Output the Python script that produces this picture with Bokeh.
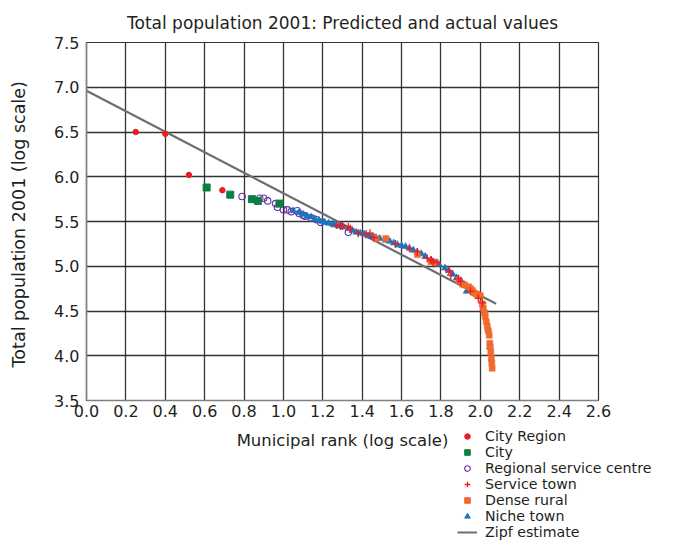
from bokeh.plotting import figure
from bokeh.models import Legend, LegendItem, Range1d, FixedTicker, Title
from bokeh.embed import file_html
from bokeh.resources import INLINE

# ---- data ----
city_region_x = [0.25, 0.40, 0.52, 0.69]
city_region_y = [6.50, 6.48, 6.02, 5.85]

city_x = [0.61, 0.73, 0.84, 0.87, 0.98]
city_y = [5.88, 5.80, 5.75, 5.73, 5.70]

regional_x = [0.79, 0.88, 0.90, 0.92, 0.96, 0.97, 1.00, 1.02, 1.04, 1.07, 1.08,
              1.10, 1.11, 1.14, 1.17, 1.19, 1.33]
regional_y = [5.78, 5.76, 5.76, 5.73, 5.70, 5.66, 5.63, 5.63, 5.61, 5.62, 5.59,
              5.57, 5.56, 5.54, 5.52, 5.49, 5.38]

niche_x = [1.05, 1.08, 1.10, 1.12, 1.14, 1.16, 1.18, 1.20, 1.21, 1.23, 1.25,
           1.26, 1.28, 1.30, 1.33, 1.35, 1.37, 1.39, 1.41, 1.43, 1.45, 1.47,
           1.49, 1.52, 1.54, 1.56, 1.58, 1.60, 1.62, 1.64, 1.66, 1.68, 1.70,
           1.72, 1.75, 1.77, 1.79, 1.82, 1.84, 1.86, 1.88, 1.90, 1.93, 1.95,
           1.98, 2.02, 2.04, 2.048]
niche_y = [5.62, 5.60, 5.58, 5.56, 5.55, 5.53, 5.51, 5.50, 5.49, 5.48, 5.47,
           5.46, 5.45, 5.44, 5.42, 5.40, 5.38, 5.37, 5.36, 5.34, 5.33, 5.32,
           5.31, 5.29, 5.28, 5.26, 5.24, 5.23, 5.22, 5.20, 5.18, 5.16, 5.14,
           5.11, 5.07, 5.04, 5.02, 4.98, 4.95, 4.91, 4.87, 4.84, 4.72, 4.75,
           4.69, 4.50, 4.30, 4.10]

service_x = [1.27, 1.29, 1.30, 1.33, 1.34, 1.38, 1.42, 1.44, 1.46, 1.57, 1.64,
             1.68, 1.73, 1.75, 1.76, 1.78, 1.84, 1.85, 1.89, 1.90, 1.95, 1.99,
             2.01]
service_y = [5.46, 5.45, 5.45, 5.44, 5.42, 5.37, 5.36, 5.37, 5.32, 5.25, 5.20,
             5.16, 5.09, 5.07, 5.05, 5.04, 4.95, 4.90, 4.86, 4.83, 4.72, 4.64,
             4.59]

rural_x = [1.47, 1.52, 1.68, 1.75, 1.77, 1.89, 1.91, 1.92, 1.94, 1.95, 1.96,
           1.97, 1.98, 1.99, 2.00, 2.01, 2.015, 2.02, 2.025, 2.03, 2.035, 2.04,
           2.045, 2.048, 2.05, 2.053, 2.056, 2.058, 2.06]
rural_y = [5.31, 5.31, 5.13, 5.05, 5.04, 4.84, 4.80, 4.79, 4.77, 4.75, 4.73,
           4.70, 4.69, 4.68, 4.67, 4.58, 4.53, 4.48, 4.44, 4.38, 4.33, 4.28,
           4.23, 4.14, 4.10, 4.04, 3.97, 3.92, 3.86]

zipf_x = [0.0, 2.08]
zipf_y = [6.96, 4.58]

legend_labels = ["City Region", "City", "Regional service centre", "Service town",
                 "Dense rural", "Niche town", "Zipf estimate"]

x_ticks = [0.0, 0.2, 0.4, 0.6, 0.8, 1.0, 1.2, 1.4, 1.6, 1.8, 2.0, 2.2, 2.4, 2.6]
y_ticks = [3.5, 4.0, 4.5, 5.0, 5.5, 6.0, 6.5, 7.0, 7.5]

FONT = "DejaVu Sans"
TXT = "#231f20"

RED = "#ed1c24"
GREEN = "#0a7f45"
PURPLE = "#6b2fa0"
ORANGE = "#f26a2c"
BLUE = "#1c75bc"
GRAY = "#6d6e71"

p = figure(width=682, height=546, output_backend="svg", toolbar_location=None,
           x_range=Range1d(0, 2.6), y_range=Range1d(3.5, 7.5),
           min_border_left=86, min_border_right=84, min_border_top=42,
           min_border_bottom=146)

p.title = Title(text="Total population 2001: Predicted and actual values",
                align="center", text_font=FONT, text_font_size="17px",
                text_font_style="normal", text_color=TXT, standoff=20)

p.xaxis.ticker = FixedTicker(ticks=x_ticks)
p.yaxis.ticker = FixedTicker(ticks=y_ticks)
p.xaxis.major_label_overrides = {t: f"{t:.1f}" for t in x_ticks}
p.yaxis.major_label_overrides = {t: f"{t:.1f}" for t in y_ticks}
for ax in (p.xaxis, p.yaxis):
    ax.major_tick_out = 0
    ax.major_tick_in = 0
    ax.minor_tick_out = 0
    ax.minor_tick_in = 0
    ax.axis_line_color = "#808080"
    ax.axis_line_width = 1.5
    ax.major_label_text_font = FONT
    ax.major_label_text_font_size = "16px"
    ax.major_label_text_color = TXT
    ax.axis_label_text_font = FONT
    ax.axis_label_text_font_style = "normal"
    ax.axis_label_text_color = TXT
p.xaxis.axis_label_text_font_size = "16.5px"
p.yaxis.axis_label_text_font_size = "17.5px"
p.xaxis.major_label_standoff = 4
p.yaxis.major_label_standoff = 7
p.xaxis.axis_label = "Municipal rank (log scale)"
p.yaxis.axis_label = "Total population 2001  (log scale)"
p.xaxis.axis_label_standoff = 11
p.yaxis.axis_label_standoff = 22

p.grid.grid_line_color = "#1e1e1e"
p.grid.grid_line_width = 1.3
p.grid.grid_line_alpha = 0.9
p.outline_line_color = "#333333"
p.outline_line_width = 1.2
p.background_fill_color = "white"
p.border_fill_color = "white"

p.line(zipf_x, zipf_y, line_color=GRAY, line_width=2.2)
p.scatter(regional_x, regional_y, marker="circle", size=6.5,
          fill_color=None, line_color=PURPLE, line_width=1.1)
p.scatter(niche_x, niche_y, marker="triangle", size=7,
          fill_color=BLUE, line_color=BLUE, line_width=0.5)
p.scatter(rural_x, rural_y, marker="square", size=6,
          fill_color=ORANGE, line_color=ORANGE, line_width=0.5)
p.scatter(service_x, service_y, marker="cross", size=8,
          line_color=RED, line_width=1.3)
p.scatter(city_x, city_y, marker="square", size=7,
          fill_color=GREEN, line_color=GREEN)
p.scatter(city_region_x, city_region_y, marker="circle", size=5.5,
          fill_color=RED, line_color=RED)

# ---- legend: separate transparent panel placed over the lower right ----
# its glyph renderers hold one sample of each series, kept outside the view
lg = figure(width=225, height=118, output_backend="svg", toolbar_location=None,
            x_range=Range1d(-3, -2), y_range=Range1d(-3, -2),
            x_axis_type=None, y_axis_type=None,
            min_border=0, min_border_left=0, min_border_right=0,
            min_border_top=0, min_border_bottom=0,
            outline_line_color=None,
            styles={"position": "absolute", "left": "457px", "top": "428px"})
lg.background_fill_alpha = 0
lg.border_fill_alpha = 0
lg.grid.visible = False

l_cr = lg.scatter(city_region_x[:1], city_region_y[:1], marker="circle",
                  fill_color=RED, line_color=RED)
l_city = lg.scatter(city_x[:1], city_y[:1], marker="square",
                    fill_color=GREEN, line_color=GREEN)
l_reg = lg.scatter(regional_x[:1], regional_y[:1], marker="circle", fill_color=None,
                   line_color=PURPLE, line_width=1.1)
l_serv = lg.scatter(service_x[:1], service_y[:1], marker="cross",
                    line_color=RED, line_width=1.3)
l_rural = lg.scatter(rural_x[:1], rural_y[:1], marker="square",
                     fill_color=ORANGE, line_color=ORANGE)
l_niche = lg.scatter(niche_x[:1], niche_y[:1], marker="triangle",
                     fill_color=BLUE, line_color=BLUE)
l_zipf = lg.line(zipf_x, zipf_y, line_color=GRAY, line_width=2)

rends = [l_cr, l_city, l_reg, l_serv, l_rural, l_niche, l_zipf]
items = [LegendItem(label=lab, renderers=[r]) for lab, r in zip(legend_labels, rends)]
legend = Legend(items=items, location="top_left", padding=0, margin=0,
                spacing=0, glyph_width=20, glyph_height=14, label_height=14,
                label_standoff=8, label_text_font=FONT,
                label_text_font_size="14.2px", label_text_color=TXT,
                background_fill_alpha=0, border_line_alpha=0)
lg.add_layout(legend, "center")

open("out.html", "w").write(file_html([p, lg], INLINE))
